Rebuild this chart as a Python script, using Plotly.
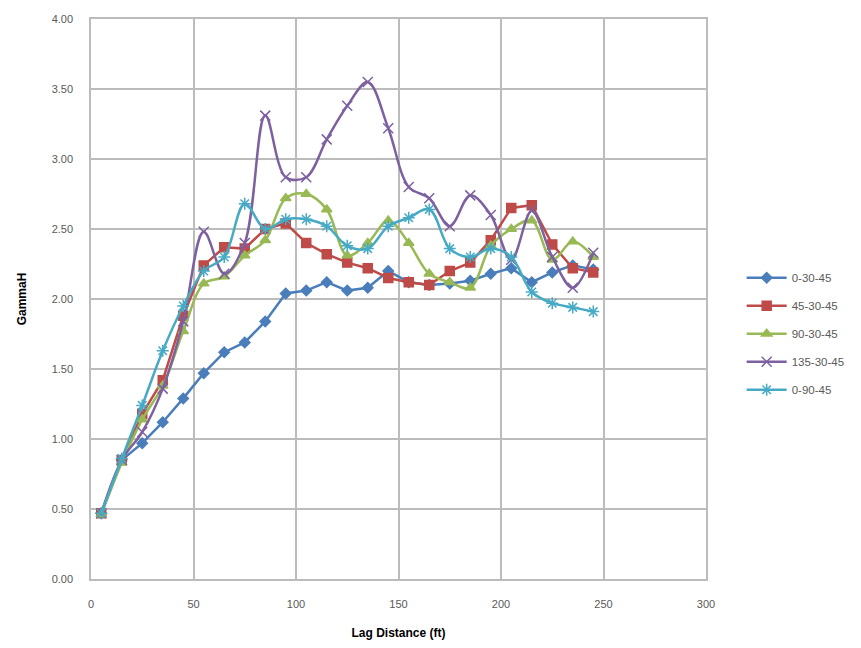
import plotly.graph_objects as go

lag = [5, 15, 25, 35, 45, 55, 65, 75, 85, 95, 105, 115, 125, 135, 145, 155, 165, 175, 185, 195, 205, 215, 225, 235, 245]

s_0_30_45 = [0.47, 0.85, 0.97, 1.12, 1.29, 1.47, 1.62, 1.69, 1.84, 2.04, 2.06, 2.12, 2.06, 2.08, 2.20, 2.12, 2.10, 2.11, 2.13, 2.18, 2.22, 2.12, 2.19, 2.24, 2.21]
s_45_30_45 = [0.47, 0.85, 1.18, 1.42, 1.88, 2.24, 2.37, 2.36, 2.50, 2.54, 2.40, 2.32, 2.26, 2.22, 2.15, 2.12, 2.10, 2.20, 2.26, 2.42, 2.65, 2.67, 2.39, 2.22, 2.19]
s_90_30_45 = [0.46, 0.83, 1.14, 1.38, 1.77, 2.11, 2.16, 2.31, 2.42, 2.72, 2.75, 2.64, 2.31, 2.40, 2.56, 2.40, 2.18, 2.12, 2.08, 2.38, 2.50, 2.56, 2.28, 2.41, 2.30]
s_135_30_45 = [0.47, 0.85, 1.05, 1.36, 1.84, 2.48, 2.18, 2.40, 3.31, 2.87, 2.87, 3.14, 3.38, 3.55, 3.22, 2.80, 2.72, 2.52, 2.74, 2.60, 2.28, 2.63, 2.30, 2.08, 2.33]
s_0_90_45 = [0.47, 0.86, 1.24, 1.63, 1.95, 2.20, 2.30, 2.68, 2.50, 2.57, 2.57, 2.52, 2.38, 2.36, 2.52, 2.58, 2.64, 2.36, 2.30, 2.36, 2.30, 2.05, 1.97, 1.94, 1.91]

series_names = ["0-30-45", "45-30-45", "90-30-45", "135-30-45", "0-90-45"]
series_values = [s_0_30_45, s_45_30_45, s_90_30_45, s_135_30_45, s_0_90_45]
colors = ["#4a7ebb", "#be4b48", "#98b954", "#7d60a0", "#46aac5"]
symbols = ["diamond", "square", "triangle-up", "x-thin-open", "asterisk-open"]
sizes = [8, 9, 9, 10, 10]
shapes = ["linear", "linear", "spline", "spline", "spline"]

fig = go.Figure()
for name, vals, c, sym, sz, shp in zip(series_names, series_values, colors, symbols, sizes, shapes):
    fig.add_trace(go.Scatter(
        x=lag, y=vals, name=name, mode="lines+markers", legendgroup=name,
        line=dict(color=c, width=2.5, shape=shp, smoothing=1.0),
        marker=dict(symbol=sym, size=sz, color=c, line=dict(color=c, width=1.5)),
    ))

font_family = "Liberation Sans, Arial, sans-serif"
fig.update_layout(
    width=861, height=648,
    margin=dict(l=83, r=163, t=11, b=77, autoexpand=False),
    paper_bgcolor="white", plot_bgcolor="white",
    font=dict(family=font_family, size=11, color="#595959"),
    showlegend=True,
    legend=dict(x=1.058, y=0.438, xanchor="left", yanchor="middle",
                font=dict(size=11.5, color="#595959"), tracegroupgap=9,
                itemwidth=40, bgcolor="rgba(0,0,0,0)"),
    xaxis=dict(range=[0, 300], tick0=0, dtick=50, showgrid=True, automargin=False,
               gridcolor="#bcbcbc", gridwidth=1.5, zeroline=False,
               showline=True, linecolor="#bcbcbc", linewidth=1.5, mirror=True,
               ticks="", ticklabelstandoff=14,
               title=dict(text="<b>Lag Distance (ft)</b>", font=dict(size=12, color="#000000"), standoff=20)),
    yaxis=dict(range=[0, 4], tick0=0, dtick=0.5, tickformat=".2f", showgrid=True, automargin=False,
               gridcolor="#bcbcbc", gridwidth=1.5, zeroline=False,
               showline=True, linecolor="#bcbcbc", linewidth=1.5, mirror=True,
               ticks="", ticklabelstandoff=14,
               title=dict(text="<b>GammaH</b>", font=dict(size=12, color="#000000"), standoff=22)),
)

fig.write_html("out.html")
